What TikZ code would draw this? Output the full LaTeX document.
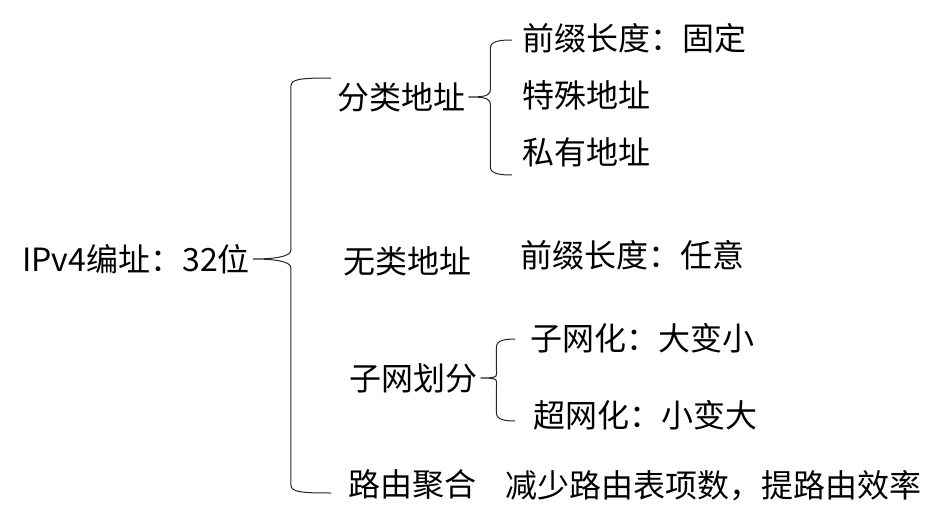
\documentclass[tikz,border=0pt]{standalone}
\usepackage{fontspec}
\newfontfamily\cjk{Noto Sans CJK SC}
\usetikzlibrary{calc}
\tikzset{
	item/.style = {
		font=\cjk\fontsize{32pt}{38pt}\selectfont,
		inner sep=0pt, anchor=west
	},
	link/.style = {
		draw=black!85, line width=1pt
	}
}
\def\bracket(#1:#2)(#3)(#4)%
    { \draw[link] let \p1=($(#1)+(3pt,0)$), \p2=(#3), \p3=(#4), \p4=($(\p1)+(#2pt,0)$) in
      (\p2) .. controls (\x4+10pt,\y2) and (\x4,\y2-1pt) .. (\x4,\y2-8pt)
      -- (\x4,\y1+9pt)
      .. controls (\x4,\y1+2pt) and (\x1+20pt,\y1) .. (\p1)
      .. controls (\x1+20pt,\y1) and (\x4,\y1-2pt) .. (\x4,\y1-9pt)
      -- (\x4,\y3+8pt)
      .. controls (\x4,\y3+1pt) and (\x4+10pt,\y3) .. (\p3); }

\begin{document}
\begin{tikzpicture}[x=1pt, y=-1pt]
	\useasboundingbox (0,0) rectangle (940,522);
	\node[item] (root) at (22,259) {IPv4编址：32位};
	\node[item] (classful) at (337,97) {分类地址};
	\node[item] (classless) at (343,261) {无类地址};
	\node[item] (subnet) at (349,378) {子网划分};
	\node[item] (aggr) at (348,484) {路由聚合};
	\node[item] (aggrnote) at (505,486) {减少路由表项数，提路由效率};
	\node[item] (fixed) at (522,38) {前缀长度：固定};
	\node[item] (special) at (522,95) {特殊地址};
	\node[item] (private) at (522,152) {私有地址};
	\node[item] (anylen) at (520,255) {前缀长度：任意};
	\node[item] (subnetting) at (530,338) {子网化：大变小};
	\node[item] (supernetting) at (533,415) {超网化：小变大};
	\coordinate (rootTop) at (331,78);
	\coordinate (rootBot) at (331,493);
	\coordinate (classTop) at (512,40);
	\coordinate (classBot) at (512,175);
	\coordinate (subTop) at (515,339);
	\coordinate (subBot) at (515,421);
	\bracket(root.east:38)(rootTop)(rootBot);
	\bracket(classful.east:22)(classTop)(classBot);
	\bracket(subnet.east:16)(subTop)(subBot);
\end{tikzpicture}
\end{document}
